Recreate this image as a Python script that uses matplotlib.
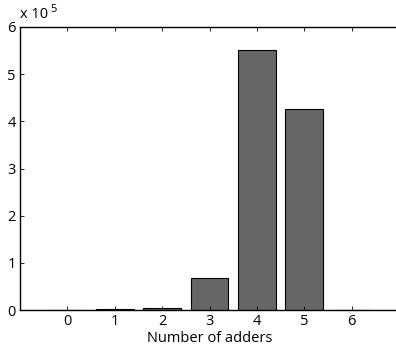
import matplotlib.pyplot as plt
import numpy as np

# --- data ---
adders = [0, 1, 2, 3, 4, 5, 6]
counts = [1000, 1200, 5000, 67000, 552000, 426000, 1000]

plt.rcParams['font.family'] = ['Open Sans', 'DejaVu Sans']
plt.rcParams['font.size'] = 10.5

fig = plt.figure(figsize=(3.96, 3.52), dpi=100)
ax = fig.add_axes([20 / 396, 1 - 310 / 352, 379 / 396, 283 / 352])

ax.bar(adders, counts, width=0.8, color='#666666', edgecolor='black', linewidth=0.8)

ax.set_xlim(-1, 7)
ax.set_ylim(0, 6e5)
ax.set_xticks(adders)
ax.set_yticks(np.arange(0, 7) * 1e5)
ax.set_yticklabels([str(i) for i in range(7)])
ax.tick_params(direction='in', length=3, width=0.6, top=True, right=False, pad=3)
for s in ax.spines.values():
    s.set_linewidth(1.0)
ax.spines['right'].set_visible(False)

ax.set_xlabel("Number of adders", labelpad=1)
fig.text(20 / 396, 1 - 15 / 352, "x 10", ha='left', va='center', fontsize=10.5)
fig.text(50 / 396, 1 - 9 / 352, "5", ha='left', va='center', fontsize=8)

fig.savefig("out.png", dpi=100)
